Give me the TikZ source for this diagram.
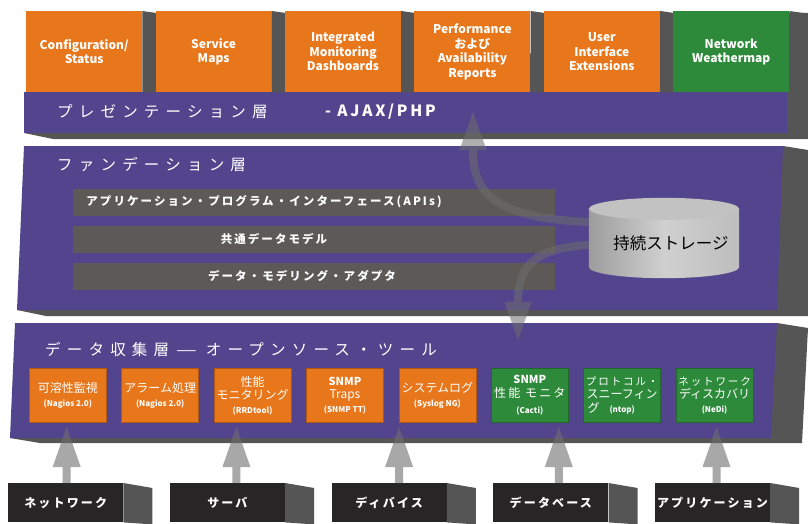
\documentclass[tikz,border=0pt]{standalone}
\usepackage{fontspec}
\setmainfont{Noto Sans CJK JP}
\newfontfamily\widejp[LetterSpace=40]{Noto Sans CJK JP}
\newfontfamily\spacedjp[LetterSpace=18]{Noto Sans CJK JP}
\usetikzlibrary{positioning,calc,arrows.meta}

\definecolor{layerpurple}{HTML}{52458D}
\definecolor{tileorange}{HTML}{E8761A}
\definecolor{tilegreen}{HTML}{2D8A3A}
\definecolor{sidegray}{HTML}{555555}
\definecolor{bargray}{HTML}{5D5957}
\definecolor{srcblack}{HTML}{272525}
\definecolor{arrowgray}{HTML}{6E6E6E}
\definecolor{cylleft}{HTML}{9C9C9C}
\definecolor{cylmid}{HTML}{D0D0D0}
\definecolor{cylright}{HTML}{BDBDBD}
\definecolor{cyltop}{HTML}{C2C2C2}

\newcommand{\toolname}[1]{{\fontsize{8}{10}\selectfont\bfseries #1}}

\tikzset{
  tile/.style={fill=tileorange, text=white, inner sep=0pt, align=center,
    minimum width=116pt, minimum height=81pt,
    font=\fontsize{12}{14.5}\selectfont\bfseries},
  tooltile/.style={fill=tileorange, line width=0.6pt,
    text=white, inner sep=0pt, align=center,
    minimum width=77pt, minimum height=54pt,
    font=\fontsize{12}{13.5}\selectfont},
  bar/.style={fill=bargray, minimum width=482pt, minimum height=27pt, inner sep=0pt},
  bartext/.style={text=white, inner sep=0pt,
    font=\spacedjp\fontsize{11.5}{12}\selectfont\bfseries},
  srcbox/.style={fill=srcblack, text=white, inner sep=0pt,
    minimum width=115pt, minimum height=39pt,
    font=\spacedjp\fontsize{12}{13}\selectfont\bfseries},
  layertitle/.style={text=white, anchor=west, inner sep=0pt,
    font=\widejp\fontsize{15.5}{17}\selectfont},
  flow/.style={draw=arrowgray, line width=8pt,
    -{Triangle[width=27pt,length=38pt,line width=0pt]}},
  feed/.style={draw=arrowgray, line width=8pt,
    -{Triangle[width=28pt,length=40pt,line width=0pt]}},
}

\begin{document}
\begin{tikzpicture}[x=1pt,y=-1pt]
  \useasboundingbox (0,0) rectangle (808,524);

  \def \tilestep {129.4}
  \def \toolstep {92.4}
  \def \srcstep {161.7}

  % presentation layer
  \fill[sidegray] (787,13) -- (808,13) -- (808,139) -- (53,139) -- (24,133) -- cycle;
  \fill[layerpurple] (24,92) rectangle (787,133);
  \node[layertitle] (prestitle) at (57,112) {プレゼンテーション層};
  \node[layertitle, font=\spacedjp\fontsize{15.5}{17}\selectfont\bfseries] (presajax) at (325,112) {- AJAX/PHP};

  \foreach \col/\txt [count=\i from 0] in {tileorange/{Configuration/\\Status},%
      tileorange/{Service\\Maps},%
      tileorange/{Integrated\\Monitoring\\Dashboards},%
      tileorange/{Performance\\および\\Availability\\Reports},%
      tileorange/{User\\Interface\\Extensions},%
      tilegreen/{Network\\Weathermap}}
  {
    \node[tile, fill=\col, anchor=north west] (tile\i) at ({26+\tilestep*\i},11) {\txt};
    \fill[sidegray] (tile\i.north east) -- ++(14,2) -- ([xshift=14pt]tile\i.south east) -- (tile\i.south east) -- cycle;
  }

  % foundation layer
  \fill[sidegray] (783,146) -- (808,150) -- (808,316) -- (46,316) -- (17,310) -- cycle;
  \fill[layerpurple] (24,146) -- (783,146) -- (777,310) -- (17,310) -- cycle;
  \node[layertitle] (foundtitle) at (57,165) {ファンデーション層};
  \foreach \txt/\tx [count=\i from 0] in {{アプリケーション・プログラム・インターフェース(APIs)}/264,%
      共通データモデル/274,%
      データ・モデリング・アダプタ/302}
  {
    \node[bar] (bar\i) at (314,{202+37*\i}) {};
    \node[bartext] (bartxt\i) at (\tx,{202+37*\i}) {\txt};
  }

  % data collection layer
  \fill[sidegray] (777,323) -- (808,328) -- (802,443) -- (40,443) -- (10,438) -- cycle;
  \fill[layerpurple] (15,323) -- (777,323) -- (771,438) -- (10,438) -- cycle;
  \node[layertitle] (colltitle) at (45,350) {データ収集層\hspace{7pt}\scalebox{1.5}[1]{—}\hspace{9pt}オープンソース・ツール};

  \foreach \col/\txt [count=\i from 0] in {tileorange/{可溶性監視\\\toolname{(Nagios 2.0)}},%
      tileorange/{アラーム処理\\\toolname{(Nagios 2.0)}},%
      tileorange/{性能\\モニタリング\\\toolname{(RRDtool)}},%
      tileorange/{\fontsize{11}{12}\selectfont\bfseries SNMP\\Traps\\\toolname{(SNMP TT)}},%
      tileorange/{システムログ\\\toolname{(Syslog NG)}},%
      tilegreen/{\fontsize{11}{13}\selectfont\bfseries SNMP\\\mdseries\spacedjp 性能 モニタ\\[3pt]\toolname{(Cacti)}},%
      tilegreen/{\spacedjp\fontsize{10.5}{11}\selectfont プロトコル・\\スニーフィン\\グ\hspace{10pt}\toolname{(ntop)}\hspace*{22pt}},%
      tilegreen/{\spacedjp\fontsize{10.5}{11}\selectfont ネットワーク\\ディスカバリ\\\toolname{(NeDi)}}}
  {
    \node[tooltile, fill=\col, draw=\col!75!black, anchor=north west] (tool\i) at ({29+\toolstep*\i},368) {\txt};
  }

  % storage and its flows
  \node[minimum width=150pt, minimum height=80pt, inner sep=0pt] (store) at (664,238) {};
  \coordinate (presin) at (473,112);
  \coordinate (datain) at (518,340);
  \begin{scope}[transparency group, opacity=.55]
    \draw[flow] ([yshift=16pt]store.west) .. controls (490,218) and (473,190) .. (presin);
  \end{scope}
  \begin{scope}[transparency group, opacity=.55]
    \draw[flow] ([yshift=-7pt]store.west) .. controls (530,248) and (518,270) .. (datain);
  \end{scope}
  \shade[left color=cylleft, right color=cylright, middle color=cylmid]
    ($(store.south)+(0,-11)$) ellipse [x radius=75, y radius=11];
  \shade[left color=cylleft, right color=cylright, middle color=cylmid]
    ($(store.north west)+(0,11)$) rectangle ($(store.south east)+(0,-11)$);
  \fill[cyltop] ($(store.north)+(0,11)$) ellipse [x radius=75, y radius=11];
  \node[font=\fontsize{16.5}{18}\selectfont, inner sep=0pt] (storetxt) at ([xshift=7pt,yshift=-5pt]store.center) {持続ストレージ};

  % data sources
  \coordinate (collbase) at (0,427);
  \foreach \txt/\ax [count=\i from 0] in {ネットワーク/1, サーバ/9, ディバイス/10, データベース/8, アプリケーション/4}
  {
    \node[srcbox, anchor=north west] (src\i) at ({8+\srcstep*\i},483) {\txt};
    \fill[sidegray] (src\i.north east) -- ++(29,5) -- ([xshift=29pt,yshift=-2pt]src\i.south east) -- (src\i.south east) -- cycle;
    \begin{scope}[transparency group, opacity=.6]
      \draw[feed] ([xshift=\ax pt]src\i.north) -- ([xshift=\ax pt]src\i.north |- collbase);
    \end{scope}
  }
\end{tikzpicture}
\end{document}
